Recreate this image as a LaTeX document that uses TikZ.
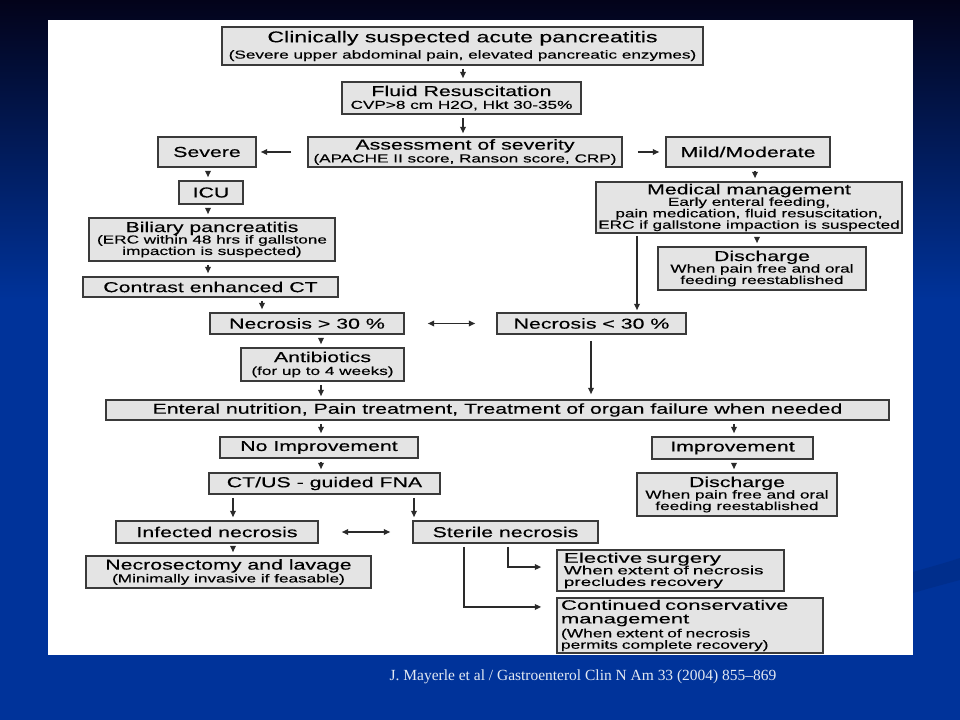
\documentclass[tikz,border=0pt]{standalone}
\usepackage{fontspec}
\setmainfont{Liberation Serif}
\newfontfamily\dg[FakeStretch=1.48,FakeBold=0.3]{Liberation Sans}
\newfontfamily\dgw[FakeStretch=1.6,FakeBold=0.3]{Liberation Sans}
\usetikzlibrary{arrows.meta,calc}
\definecolor{boxfill}{HTML}{E4E4E4}
\definecolor{boxline}{HTML}{3A3A3A}
\definecolor{arrcol}{HTML}{2A2A2A}
\definecolor{bgblue}{HTML}{00339A}
\definecolor{bgmid}{HTML}{001C5C}
\definecolor{bgdark}{HTML}{03031A}
\definecolor{swoosh}{HTML}{002E8C}
\definecolor{captcol}{HTML}{E2E8F2}
\newcommand\hd{\fontsize{10.8}{10.5}\selectfont}
\newcommand\ttl{\fontsize{11.7}{11.5}\selectfont}
\newcommand\sm{\fontsize{8.7}{8.6}\selectfont}
\newcommand\bx[7][]{\node[box,#1,minimum width={(#5-#3)*0.75pt},minimum height={(#6-#4)*0.75pt}] (#2) at ({(#3+#5)/2},{(#4+#6)/2}) {#7};}
\begin{document}
\begin{tikzpicture}[x=0.75pt,y=-0.75pt,
  box/.style={draw=boxline, fill=boxfill, line width=1.2pt, inner sep=0pt, align=center, font=\dg\sm},
  hbox/.style={font=\dg\hd},
  arr/.style={draw=arrcol, line width=1.1pt, shorten <=2.25pt, shorten >=2.25pt, -{Triangle[length=4.8pt,width=4.2pt]}},
  darr/.style={draw=arrcol, line width=1.1pt, {Triangle[length=4.8pt,width=4.2pt]}-{Triangle[length=4.8pt,width=4.2pt]}},
]
% background
\fill[bgblue] (0,0) rectangle (960,720);
\shade[top color=bgdark, middle color=bgmid, bottom color=bgblue] (0,0) rectangle (960,300);
\fill[swoosh] (913,572) .. controls (930,567) and (945,563) .. (960,558) -- (960,580) .. controls (945,584) and (930,588) .. (913,593) -- cycle;
\fill[white] (48,20) rectangle (913,655);

% column coordinates
\coordinate (xA) at (463,0);
\coordinate (xS) at (208,0);
\coordinate (xM) at (755,0);
\coordinate (xD) at (757,0);
\coordinate (xL) at (637,0);
\coordinate (xC) at (262,0);
\coordinate (xN) at (321,0);
\coordinate (xR) at (591,0);
\coordinate (xI) at (734,0);
\coordinate (xF) at (233,0);
\coordinate (xG) at (414,0);
\coordinate (xE) at (508,0);
\coordinate (xK) at (464,0);

% boxes
\bx{clin}{222}{27}{703}{65}{{\ttl Clinically suspected acute pancreatitis}\\[2.5pt](Severe upper abdominal pain, elevated pancreatic enzymes)}
\bx{fluid}{342}{82}{581}{114}{{\hd Fluid Resuscitation}\\[1pt]CVP>8 cm H2O,  Hkt 30-35\%}
\bx{assess}{308}{137}{622}{167}{{\hd Assessment of severity}\\[1pt](APACHE II score, Ranson score, CRP)}
\bx[hbox]{severe}{158}{137}{256}{167}{Severe}
\bx[hbox]{mild}{666}{137}{830}{167}{Mild/Moderate}
\bx[hbox]{icu}{179}{181}{243}{204}{ICU}
\bx{medical}{596}{182}{902}{233}{{\hd Medical management}\\Early enteral feeding,\\pain medication, fluid resuscitation,\\ERC if gallstone impaction is suspected}
\bx{biliary}{89}{218}{335}{261}{{\hd Biliary pancreatitis}\\(ERC within 48 hrs if gallstone\\impaction is suspected)}
\bx{dis1}{658}{247}{866}{290}{{\hd Discharge}\\When pain free and oral\\feeding reestablished}
\bx[hbox]{contrast}{83}{277}{338}{297}{Contrast enhanced CT}
\bx[hbox]{necrog}{210}{313}{404}{334}{Necrosis > 30 \%}
\bx[hbox]{necrol}{497}{313}{686}{334}{Necrosis < 30 \%}
\bx{antib}{241}{348}{404}{381}{{\hd Antibiotics}\\[1pt](for up to 4 weeks)}
\bx[hbox]{enteral}{106}{400}{889}{420}{Enteral nutrition, Pain treatment, Treatment of organ failure when needed}
\bx[hbox]{noimp}{220}{437}{418}{458}{No Improvement}
\bx[hbox]{imp}{652}{437}{813}{459}{Improvement}
\bx[hbox]{ctus}{209}{473}{440}{494}{CT/US - guided FNA}
\bx{dis2}{637}{473}{837}{516}{{\hd Discharge}\\When pain free and oral\\feeding reestablished}
\bx[hbox]{infected}{116}{521}{318}{543}{Infected necrosis}
\bx[hbox]{sterile}{413}{521}{598}{543}{Sterile necrosis}
\bx{necrosect}{86}{556}{371}{588}{{\hd Necrosectomy and lavage}\\[1pt](Minimally invasive if feasable)}
\bx[align=left, text width=160pt, font=\dgw\fontsize{8.9}{8.7}\selectfont]{elective}{557}{550}{784}{591}{{\fontsize{10.5}{10}\selectfont Elective surgery}\\When extent of necrosis\\precludes recovery}
\bx[align=left, text width=193.5pt, font=\dg\fontsize{8.8}{8.6}\selectfont]{continued}{557}{598}{823}{653}{{\dgw\fontsize{10.3}{10}\selectfont Continued conservative}\\[1.6pt]{\dgw\fontsize{10.3}{10}\selectfont management}\\[1.8pt](When extent of necrosis\\permits complete recovery)}

% connectors
\draw[arr] (clin.south -| xA) -- (fluid.north -| xA);
\draw[arr] (fluid.south -| xA) -- (assess.north -| xA);
\draw[arr, shorten <=12pt, shorten >=3pt] (assess.west) -- (severe.east);
\draw[arr, shorten <=11.25pt, shorten >=4.5pt] (assess.east) -- (mild.west);
\draw[arr] (severe.south -| xS) -- (icu.north -| xS);
\draw[arr] (mild.south -| xM) -- (medical.north -| xM);
\draw[arr] (icu.south -| xS) -- (biliary.north -| xS);
\draw[arr] (medical.south -| xD) -- (dis1.north -| xD);
\draw[arr, shorten <=1.5pt, shorten >=1.5pt] (medical.south -| xL) -- (necrol.north -| xL);
\draw[arr] (biliary.south -| xS) -- (contrast.north -| xS);
\draw[arr] (contrast.south -| xC) -- (necrog.north -| xC);
\draw[darr, shorten <=17.25pt, shorten >=15.75pt] (necrog.east) -- (necrol.west);
\draw[arr] (necrog.south -| xN) -- (antib.north -| xN);
\draw[arr, shorten <=4.5pt, shorten >=3.75pt] (necrol.south -| xR) -- (enteral.north -| xR);
\draw[arr] (antib.south -| xN) -- (enteral.north -| xN);
\draw[arr] (enteral.south -| xN) -- (noimp.north -| xN);
\draw[arr] (enteral.south -| xI) -- (imp.north -| xI);
\draw[arr] (noimp.south -| xN) -- (ctus.north -| xN);
\draw[arr] (imp.south -| xI) -- (dis2.north -| xI);
\draw[arr] (ctus.south -| xF) -- (infected.north -| xF);
\draw[arr] (ctus.south -| xG) -- (sterile.north -| xG);
\draw[darr, shorten <=17.25pt, shorten >=16.5pt] (infected.east) -- (sterile.west);
\draw[arr] (infected.south -| xF) -- (necrosect.north -| xF);
\draw[arr, shorten >=11.25pt] (sterile.south -| xE) |- ([yshift=2.6pt]elective.west);
\draw[arr, shorten >=11.25pt] (sterile.south -| xK) |- ([yshift=13.9pt]continued.west);

% caption
\node[font=\fontsize{11.6}{13}\selectfont, text=captcol] (cap) at (583,677) {J. Mayerle et al / Gastroenterol Clin N Am 33 (2004) 855–869};
\end{tikzpicture}
\end{document}
